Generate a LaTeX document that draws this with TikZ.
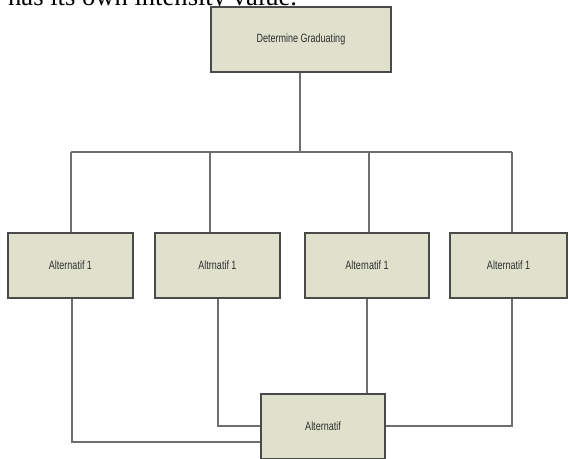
\documentclass[tikz,border=0pt]{standalone}
\usepackage{fontspec}
\setmainfont{Liberation Serif}
\newfontfamily\narrowfont[FakeStretch=0.75]{Liberation Sans}
\definecolor{boxfill}{HTML}{DFE1CC}
\definecolor{boxline}{HTML}{4A4A4A}
\definecolor{connline}{HTML}{6E6E6E}
\definecolor{labeltext}{HTML}{2E2E2E}
\tikzset{
  altbox/.style={draw=boxline, line width=1.5pt, fill=boxfill, minimum height=65pt,
    inner sep=0pt, font=\narrowfont\fontsize{12}{14}\selectfont, text=labeltext},
  conn/.style={draw=connline, line width=1.8pt}
}
\begin{document}
\begin{tikzpicture}[x=1pt,y=-1pt]
\useasboundingbox[fill=white] (0,0) rectangle (569,458);
% caption fragment (cut at the top)
\node[anchor=base west, inner sep=0pt, font=\fontsize{26.6}{30}\selectfont] (cap) at (8,5) {has its own intensity value.};
% boxes
\node[altbox, minimum width=180pt] (top) at (301,39.5) {Determine Graduating};
\node[altbox, minimum width=125pt] (a1) at (70.5,265.5) {Alternatif 1};
\node[altbox, minimum width=125pt] (a2) at (217.5,265.5) {Altrnatif 1};
\node[altbox, minimum width=124pt] (a3) at (367,265.5) {Alternatif 1};
\node[altbox, minimum width=117pt] (a4) at (508.5,265.5) {Alternatif 1};
\node[altbox, minimum width=124pt] (b) at (323,426.5) {Alternatif};
% junction coordinates
\coordinate (j) at (300,152);
\coordinate (h1) at (71,152);
\coordinate (h2) at (210,152);
\coordinate (h3) at (369,152);
\coordinate (h4) at (512,152);
\coordinate (l1) at (72,442);
\coordinate (l2) at (218,426);
\coordinate (l3) at (367,394);
\coordinate (l4) at (512,426);
% upper connectors
\draw[conn] (top.south -| j) -- (j);
\draw[conn] (h1) -- (h4);
\draw[conn] (h1) -- (h1 |- a1.north);
\draw[conn] (h2) -- (h2 |- a2.north);
\draw[conn] (h3) -- (h3 |- a3.north);
\draw[conn] (h4) -- (h4 |- a4.north);
% lower connectors
\draw[conn] (a1.south -| l1) -- (l1) -- (l1 -| b.west);
\draw[conn] (a2.south -| l2) -- (l2) -- (l2 -| b.west);
\draw[conn] (a3.south -| l3) -- (l3 |- b.north);
\draw[conn] (a4.south -| l4) -- (l4) -- (l4 -| b.east);
% redraw boxes on top of connector ends
\node[altbox, minimum width=124pt] at (b) {Alternatif};
\end{tikzpicture}
\end{document}
